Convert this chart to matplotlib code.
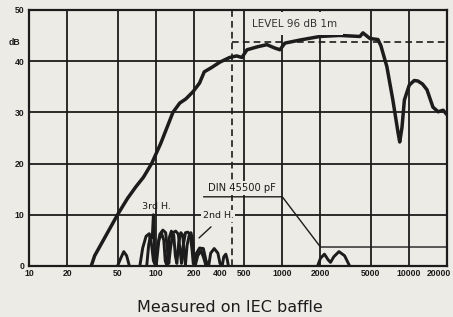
import matplotlib
matplotlib.use("Agg")
import matplotlib.pyplot as plt
from matplotlib.transforms import blended_transform_factory

plt.rcParams["font.family"] = ["Liberation Sans", "DejaVu Sans"]

PAPER = "#ecebe5"
INK = "#1c1c1c"

# main response (Hz, dB)
MAIN_F = [31, 33, 40, 50, 60, 70, 80, 93, 110, 137, 155, 173, 197, 222, 242, 275,
          322, 384, 436, 480, 526, 640, 756, 860, 957, 1048, 1376, 1981, 2850,
          4100, 4330, 4920, 5690, 6000, 6690, 7460, 8200, 8450, 8800, 9200, 10050,
          11000, 11770, 12800, 13870, 15460, 16990, 18600, 20000]
MAIN_DB = [0, 2, 5.7, 10, 13.2, 15.5, 17.3, 20, 24, 30, 31.8, 32.6, 34, 35.7, 37.9, 38.7,
           39.8, 40.7, 41.0, 40.7, 42.2, 42.8, 43.2, 42.6, 42.2, 43.5, 44.1, 44.8, 45.0,
           44.8, 45.5, 44.4, 44.2, 43.0, 38.9, 32.4, 26.0, 24.2, 27.0, 32.4, 35.3,
           36.2, 36.1, 35.5, 34.4, 31.0, 30.1, 30.4, 29.5]

# distortion traces
BUMP_F = [50, 53, 56, 59, 62]
BUMP_DB = [0, 1.5, 2.8, 2.0, 0]

H2_F = [75, 79, 84, 89, 93, 96, 99, 103, 108, 114, 120, 124, 127, 131, 137, 144, 151,
        156, 160, 165, 172, 180, 188, 194, 198, 203, 210, 222, 238, 250, 262, 272,
        290, 310, 322, 335, 345, 358, 368, 375]
H2_DB = [0, 3.5, 5.8, 6.3, 4, 1, 0.3, 3.5, 6.2, 7, 6.5, 3, 0.5, 3.5, 6.5, 6.8, 6.2,
         3, 0.5, 4, 6.5, 6.6, 6, 3, 0.5, 0, 2.5, 3.5, 3.4, 1, 0, 2.5,
         3.4, 2.5, 0.5, 0, 1.8, 2.3, 1.2, 0]

H3_F = [85, 88, 91, 94, 96, 98, 101, 106, 111, 116, 119, 123, 128, 133, 139, 143, 147,
        152, 158, 164, 168, 172, 177, 184, 190, 196, 200, 205, 215, 228, 240, 250]
H3_DB = [0, 4, 6, 5.5, 10, 1, 0, 5, 6.5, 5, 1, 0, 5.5, 6.8, 6, 2, 0.5,
         4.5, 6.5, 6, 2, 0.3, 4, 6, 6.5, 5, 1.5, 0, 2, 3, 1.5, 0]

HI_F = [1900, 2000, 2150, 2300, 2400, 2550, 2800, 3100, 3400]
HI_DB = [0, 1.5, 2.3, 1.2, 0.7, 1.8, 2.8, 2.0, 0]

# DIN 45500 tolerance line
DIN_F = [240, 1000, 2000, 20000]
DIN_DB = [13.5, 13.5, 3.7, 3.7]

GRID_F = [20, 50, 100, 200, 500, 1000, 2000, 5000, 10000]
GRID_DB = [10, 20, 30, 40]
XTICKS = [10, 20, 50, 100, 200, 500, 1000, 2000, 5000, 10000]
XTICK_LABELS = ["10", "20", "50", "100", "200", "500", "1000", "2000", "5000", "10000"]
YTICKS = [0, 10, 20, 30, 40, 50]

LEVEL_DB = 43.7
LEVEL_F = 400
TICK_FS = 6.2

fig = plt.figure(figsize=(4.53, 3.17), dpi=100, facecolor=PAPER)
ax = fig.add_axes([0.064, 0.161, 0.923, 0.808], facecolor=PAPER)
ax.set_xscale("log")
ax.set_xlim(10, 20000)
ax.set_ylim(0, 50)

for f in GRID_F:
    ax.axvline(f, color=INK, lw=1.3, zorder=1)
for d in GRID_DB:
    ax.axhline(d, color=INK, lw=1.3, zorder=1)
ax.axvline(LEVEL_F, color=INK, lw=1.2, ls=(0, (4, 2.5)), zorder=1)
ax.plot([LEVEL_F, 20000], [LEVEL_DB, LEVEL_DB], color=INK, lw=1.2, ls=(0, (4, 2.5)), zorder=1)

for s in ax.spines.values():
    s.set_linewidth(1.6)
    s.set_color(INK)

ax.plot(DIN_F, DIN_DB, color=INK, lw=1.0, zorder=2)
for fx, dx in ((BUMP_F, BUMP_DB), (H2_F, H2_DB), (H3_F, H3_DB), (HI_F, HI_DB)):
    ax.plot(fx, dx, color=INK, lw=2.1, zorder=3, solid_joinstyle="round")
ax.plot(MAIN_F, MAIN_DB, color=INK, lw=2.5, zorder=4, solid_joinstyle="round",
        solid_capstyle="round")

ax.set_xticks(XTICKS, XTICK_LABELS)
ax.set_yticks(YTICKS)
ax.minorticks_off()
ax.tick_params(length=0, labelsize=TICK_FS, colors=INK, pad=2.2)
ax.tick_params(axis="y", pad=3.5)
for lab in ax.get_xticklabels() + ax.get_yticklabels():
    lab.set_fontweight("bold")

# 400 label sits left of the dashed line, 20000 runs off the right edge
xtrans = blended_transform_factory(ax.transData, ax.transAxes)
ax.text(325, -0.011, "400", transform=xtrans, ha="center", va="top", fontsize=TICK_FS,
        fontweight="bold", color=INK, clip_on=False)
ax.text(13800, -0.011, "20000", transform=xtrans, ha="left", va="top", fontsize=TICK_FS,
        fontweight="bold", color=INK, clip_on=False)
ytrans = blended_transform_factory(ax.transAxes, ax.transData)
ax.text(-0.022, LEVEL_DB, "dB", transform=ytrans, ha="right", va="center", fontsize=TICK_FS,
        fontweight="bold", color=INK)

box = dict(facecolor=PAPER, edgecolor="none", pad=1.2)
ax.text(575, 47.3, "LEVEL 96 dB 1m", ha="left", va="center", fontsize=7.5, color="#333",
        family="DejaVu Sans", bbox=dict(facecolor=PAPER, edgecolor="none", pad=4.5), zorder=5)
ax.text(480, 15.2, "DIN 45500 pF", ha="center", va="center", fontsize=7.2, color=INK,
        family="DejaVu Sans", bbox=box, zorder=5)
ax.text(102, 11.7, "3rd H.", ha="center", va="center", fontsize=6.8, color=INK,
        family="DejaVu Sans", zorder=5)
ax.text(311, 9.8, "2nd H.", ha="center", va="center", fontsize=6.8, color=INK,
        family="DejaVu Sans", bbox=box, zorder=5)
ax.annotate("", xy=(212, 5.1), xytext=(284, 8.0),
            arrowprops=dict(arrowstyle="-", color=INK, lw=1.0), zorder=5)

fig.text(0.507, 0.03, "Measured on IEC baffle", ha="center", va="center", fontsize=11.5,
         color=INK, family="DejaVu Sans")

fig.savefig("out.png", dpi=100, facecolor=PAPER)
